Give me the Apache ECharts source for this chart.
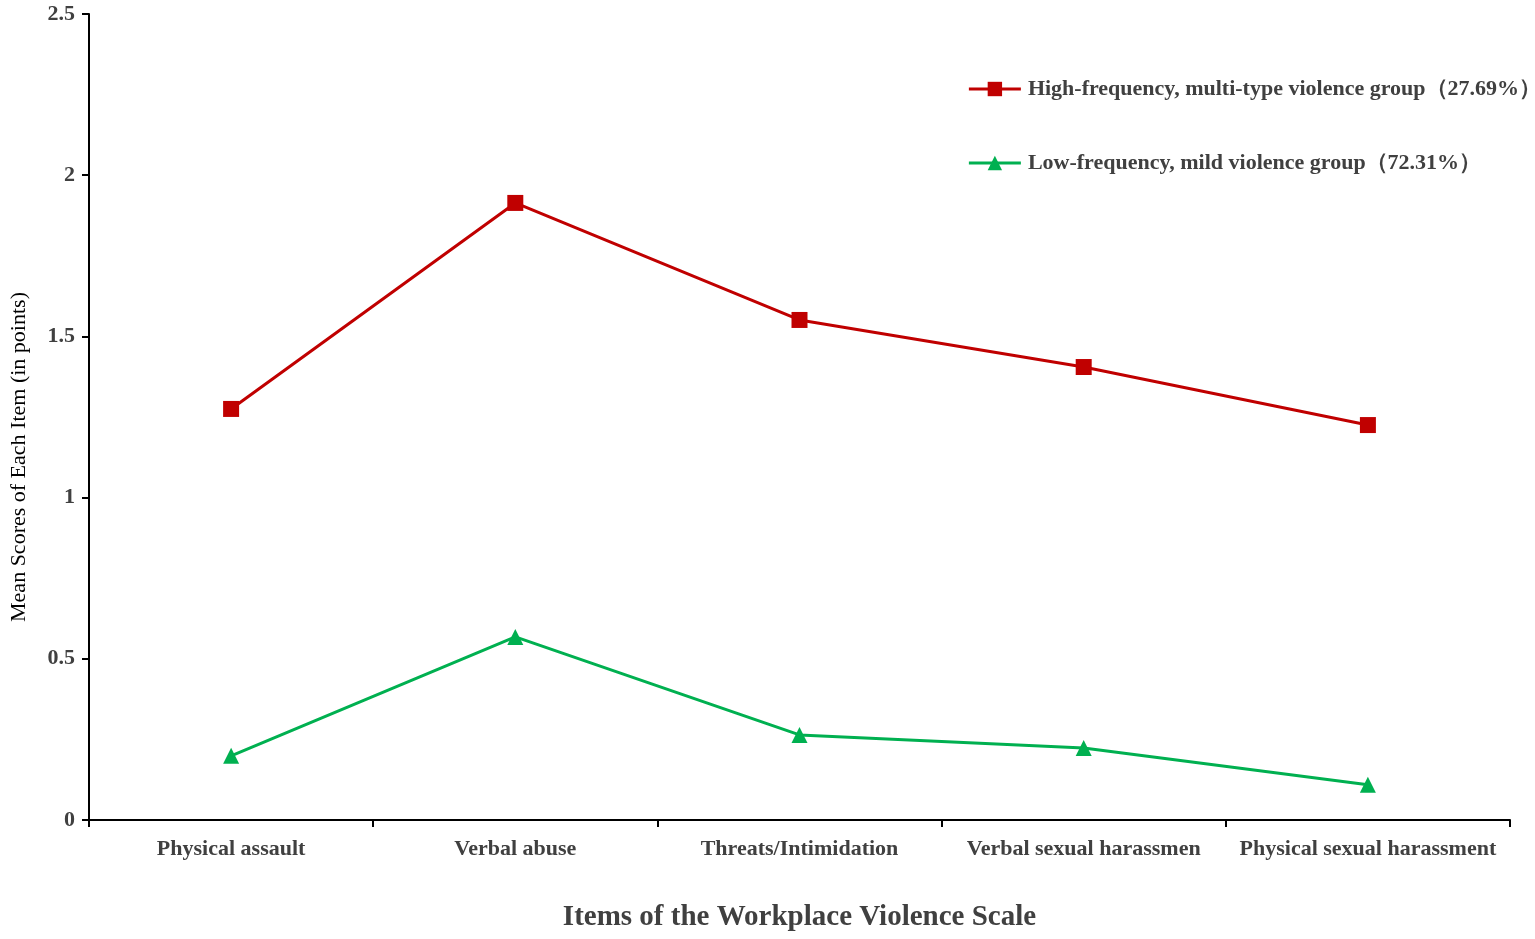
<!DOCTYPE html>
<html><head><meta charset="utf-8">
<script src="https://cdn.jsdelivr.net/npm/echarts@6/dist/echarts.min.js"></script>
<style>html,body{margin:0;padding:0;background:#fff}#c{width:1535px;height:939px}</style>
</head><body><div id="c"></div>
<script>
const categories = ['Physical assault','Verbal abuse','Threats/Intimidation','Verbal sexual harassmen','Physical sexual harassment'];
const highGroup = [1.275, 1.914, 1.551, 1.405, 1.225];
const lowGroup = [0.199, 0.568, 0.264, 0.223, 0.109];
const seriesNames = ['High-frequency, multi-type violence group（27.69%）','Low-frequency, mild violence group（72.31%）'];
const font = '"Liberation Serif", "Times New Roman", serif';
const chart = echarts.init(document.getElementById('c'));
chart.setOption({
  animation:false,
  textStyle:{fontFamily:font},
  grid:{left:84,right:25,top:14,bottom:119},
  legend:{
    orient:'vertical', right:-11, top:73, itemGap:52, itemWidth:52, itemHeight:18,
    lineStyle:{width:3},
    textStyle:{fontFamily:font,fontSize:22,fontWeight:'bold',color:'#404040',padding:[0,0,0,2]},
    data:seriesNames
  },
  xAxis:{
    type:'category', data:categories, boundaryGap:true,
    name:'Items of the Workplace Violence Scale', nameLocation:'middle', nameGap:83,
    nameTextStyle:{fontFamily:font,fontSize:29,fontWeight:'bold',color:'#404040'},
    axisLine:{lineStyle:{color:'#000',width:2}},
    axisTick:{show:true,inside:false,length:7,lineStyle:{color:'#000',width:2},alignWithLabel:false},
    axisLabel:{fontFamily:font,fontSize:22,fontWeight:'bold',color:'#404040',margin:18,interval:0}
  },
  yAxis:{
    type:'value', min:0, max:2.5, interval:0.5,
    name:'Mean Scores of Each Item (in points)', nameLocation:'middle', nameGap:59, nameRotate:90,
    nameTextStyle:{fontFamily:font,fontSize:22,color:'#000',padding:[0,80,0,0]},
    axisLine:{show:true,lineStyle:{color:'#000',width:2}},
    axisTick:{show:true,length:7,lineStyle:{color:'#000',width:2}},
    splitLine:{show:false},
    axisLabel:{fontFamily:font,fontSize:22,fontWeight:'bold',color:'#404040',margin:14}
  },
  series:[
    {name:seriesNames[0],type:'line',data:highGroup,symbol:'rect',symbolSize:16,
     lineStyle:{color:'#C00000',width:3},itemStyle:{color:'#C00000'}},
    {name:seriesNames[1],type:'line',data:lowGroup,symbol:'triangle',symbolSize:16,
     lineStyle:{color:'#00B050',width:3},itemStyle:{color:'#00B050'}}
  ]
});
</script></body></html>
